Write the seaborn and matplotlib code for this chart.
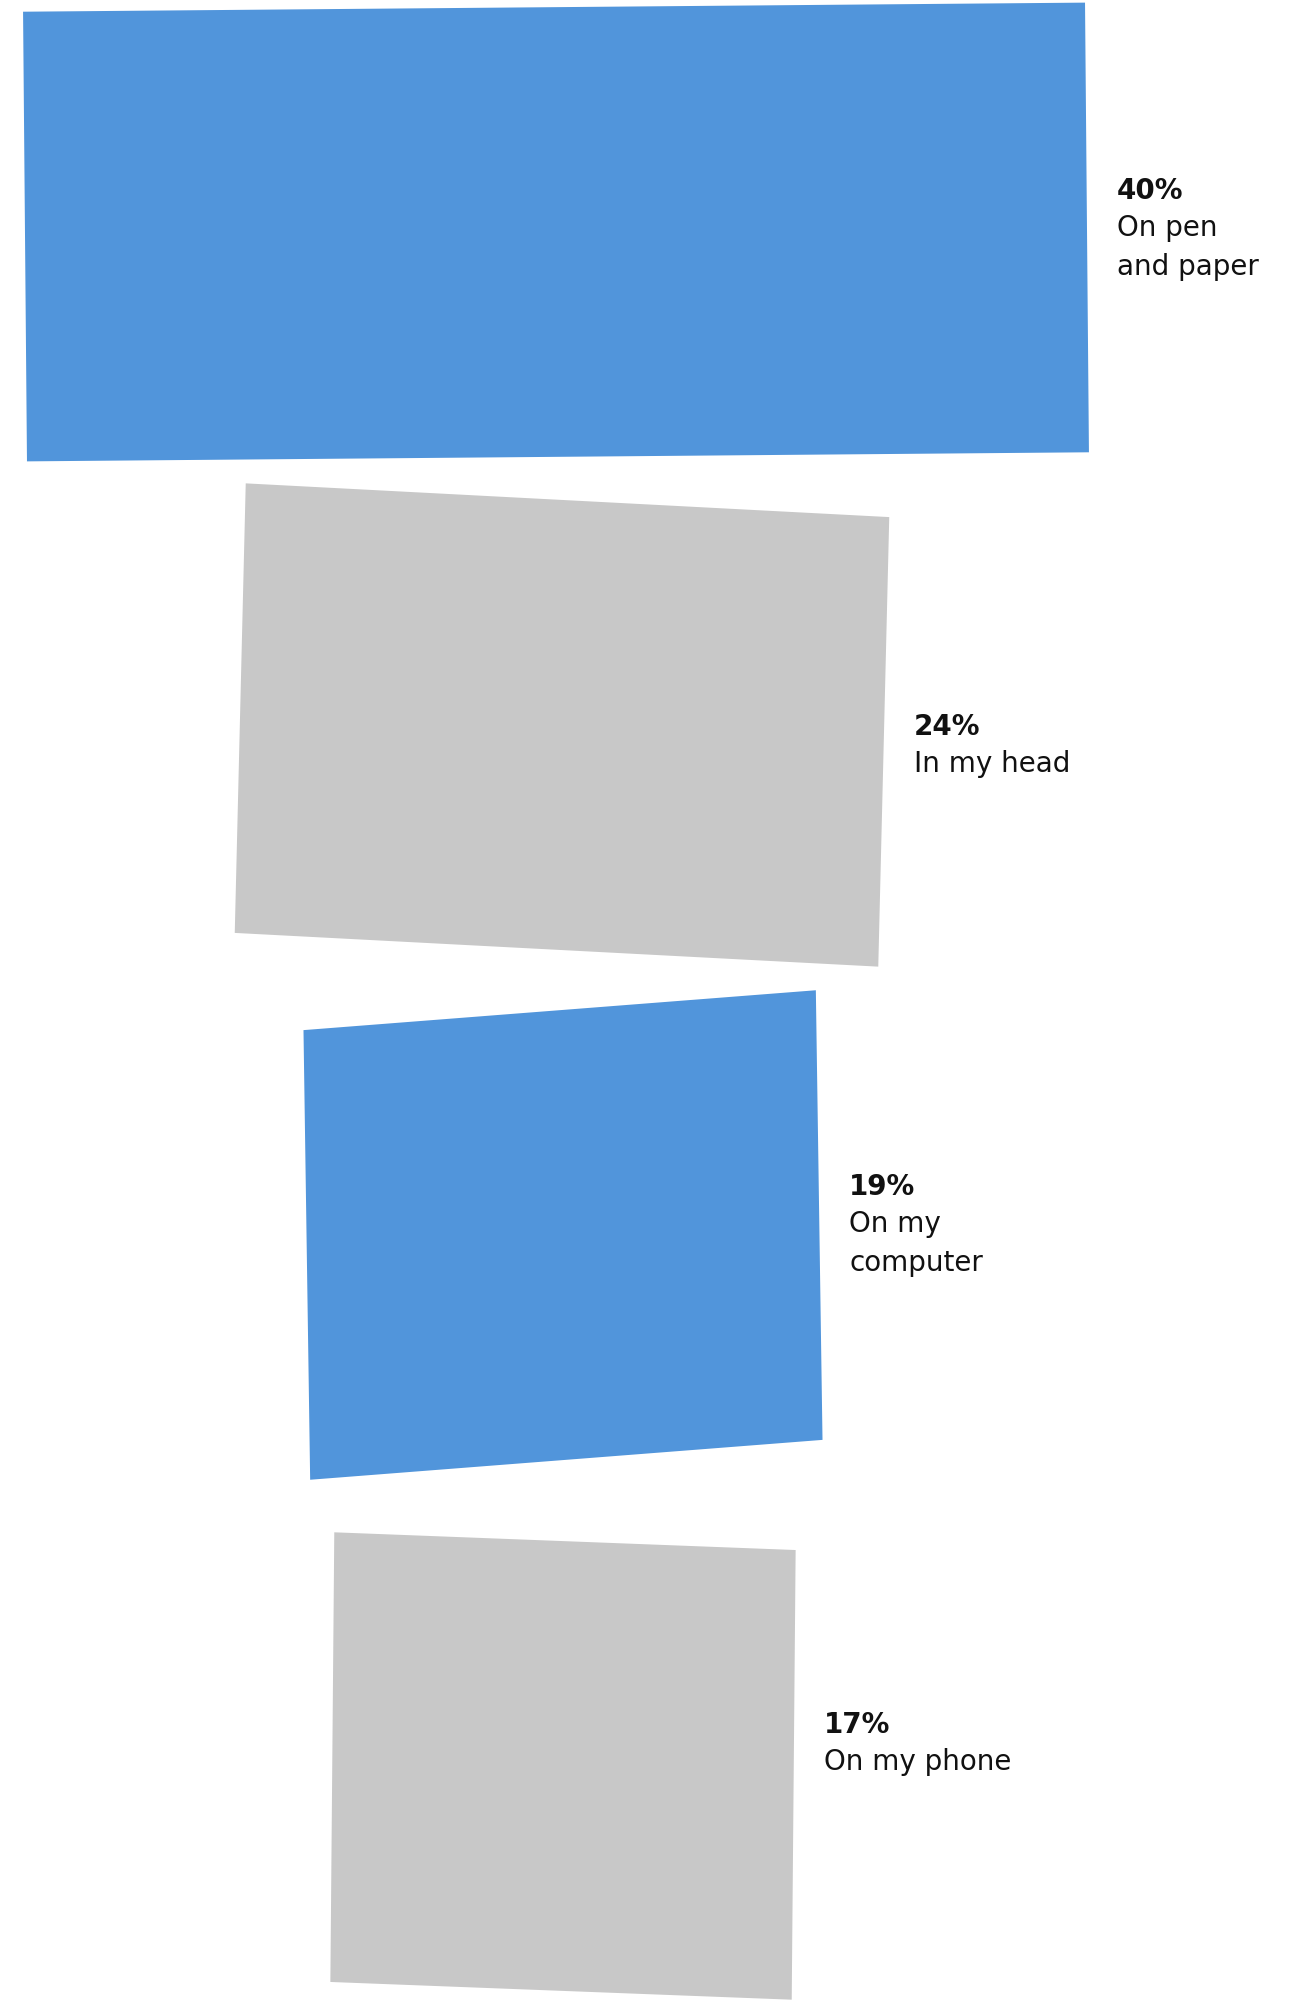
import matplotlib
matplotlib.use("Agg")
import matplotlib.pyplot as plt
from matplotlib.patches import Polygon
import numpy as np
import pandas as pd
import seaborn as sns

# Where do you keep your to-do list?
places = ["On pen\nand paper", "In my head", "On my\ncomputer", "On my phone"]
shares = [40, 24, 19, 17]
bar_colors = ["#5195DB", "#C8C8C8", "#5195DB", "#C8C8C8"]

# Hand-cut paper look: tilt of the long edges and of the short edges (degrees, CCW),
# small per-bar nudges (pixels, right / down) and label offsets from bar centre.
edge_tilt = [0.49, -3.0, 4.45, -2.2]
side_tilt = [0.5, -1.4, 0.85, -0.5]
nudge_x = [-5, 1, 2, 2]
nudge_y = [0, -18, -19, 1]
label_dy = [-33, 10, -40, -33]

W, H = 1294, 2000
PX_PER_PCT = 26.1
PAPER_PAD = 18          # extra paper around every cut-out bar, pixels
CENTER_X = 561
ROW_PX = 511
FIRST_ROW = 232
LABEL_GAP = 30
FIRST_LINE_PX = 37
LINE_PX = 39

sns.set_theme(style="white")
plt.rcParams["font.family"] = ["DejaVu Sans"]

fig = plt.figure(figsize=(W / 100, H / 100), dpi=100)
ax = fig.add_axes([0, 0, 1, 1])
df = pd.DataFrame({"place": places, "share": shares})
sns.barplot(data=df, x="share", y="place", hue="place", palette=bar_colors,
            orient="h", width=0.88, saturation=1, legend=False, ax=ax)
ax.set_xlim(-CENTER_X / PX_PER_PCT, (W - CENTER_X) / PX_PER_PCT)
ax.set_ylim((H - FIRST_ROW) / ROW_PX, -FIRST_ROW / ROW_PX)
ax.axis("off")

to_px = ax.transData
to_data = ax.transData.inverted()

for patch in list(ax.patches):
    w_val = patch.get_width()
    if w_val <= 0:
        patch.remove()
        continue
    cy = patch.get_y() + patch.get_height() / 2
    i = int(round(cy))
    # bar centred on the funnel axis, measured in pixels
    c = to_px.transform((0, cy))
    right = to_px.transform((w_val / 2, cy))
    top = to_px.transform((0, patch.get_y()))
    half_w = right[0] - c[0] + PAPER_PAD / 2
    half_h = abs(top[1] - c[1])
    c = c + np.array([nudge_x[i], -nudge_y[i]])
    a = np.radians(edge_tilt[i])
    b = np.radians(side_tilt[i])
    eh = np.array([np.cos(a), np.sin(a)])
    ev = np.array([-np.sin(b), np.cos(b)])
    corners = [c + u * half_w * eh + v * half_h * ev
               for u, v in [(-1, 1), (1, 1), (1, -1), (-1, -1)]]
    poly = Polygon(to_data.transform(np.array(corners)), closed=True,
                   facecolor=patch.get_facecolor(), edgecolor="none")
    patch.remove()
    ax.add_patch(poly)

    # label block to the right of the bar
    mid_right = c + half_w * eh
    anchor = np.array([mid_right[0] + LABEL_GAP, c[1] - label_dy[i]])
    ax.text(*to_data.transform(anchor), f"{shares[i]}%", ha="left", va="baseline",
            fontsize=20, fontweight="bold", color="#111111")
    for k, line in enumerate(places[i].split("\n")):
        pos = anchor - np.array([0, FIRST_LINE_PX + LINE_PX * k])
        ax.text(*to_data.transform(pos), line, ha="left", va="baseline",
                fontsize=20, color="#111111")

fig.savefig("out.png", dpi=100, facecolor="white")
